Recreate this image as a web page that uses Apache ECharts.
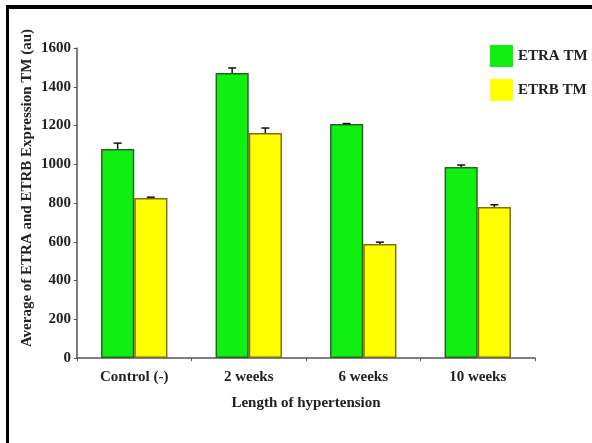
<!DOCTYPE html>
<html>
<head>
<meta charset="utf-8">
<script src="https://cdn.jsdelivr.net/npm/echarts@6/dist/echarts.min.js"></script>
<style>
	html, body { margin: 0; padding: 0; background: #fff; }
	#chart { width: 592px; height: 443px; }
</style>
</head>
<body>
<div id="chart"></div>
<script>
var categories = ['Control (-)', '2 weeks', '6 weeks', '10 weeks'];
var seriesNames = ['ETRA TM', 'ETRB TM'];
var etraValues = [1079, 1471, 1208, 986];
var etrbValues = [826, 1161, 588, 779];
var etraErrors = [30, 26, 2, 10];
var etrbErrors = [4, 26, 10, 12];
var yTicks = [0, 200, 400, 600, 800, 1000, 1200, 1400, 1600];

var fontFamily = '"Liberation Serif", "Times New Roman", serif';
var catGap = 0.42;

// error bar (upper whisker only), positioned over its bar inside the band
function errorRenderer(values, errors, side) {
	return function (params, api) {
		var i = api.value(0);
		var top = api.coord([i, values[i]]);
		var end = api.coord([i, values[i] + errors[i]]);
		var band = api.size([1, 0])[0];
		var barW = band * (1 - catGap) / 2;
		var x = top[0] + side * barW / 2;
		var style = { stroke: '#111', lineWidth: 1.5 };
		return {
			type: 'group',
			children: [
				{ type: 'line', shape: { x1: x, y1: top[1], x2: x, y2: end[1] }, style: style },
				{ type: 'line', shape: { x1: x - 4, y1: end[1], x2: x + 4, y2: end[1] }, style: style }
			]
		};
	};
}

var chart = echarts.init(document.getElementById('chart'));
chart.setOption({
	animation: false,
	backgroundColor: '#fff',
	textStyle: { fontFamily: fontFamily },
	graphic: [
		{ type: 'rect', shape: { x: 6, y: 5, width: 586, height: 4 }, style: { fill: '#000' } },
		{ type: 'rect', shape: { x: 6, y: 5, width: 3, height: 438 }, style: { fill: '#000' } }
	],
	grid: { left: 77, right: 57, top: 48, bottom: 85 },
	legend: {
		left: 485,
		top: 40,
		orient: 'vertical',
		icon: 'rect',
		itemWidth: 23,
		itemHeight: 22,
		itemGap: 12,
		data: seriesNames,
		itemStyle: { borderWidth: 0 },
		textStyle: { fontFamily: fontFamily, fontWeight: 'bold', fontSize: 15, color: '#222' }
	},
	xAxis: {
		type: 'category',
		data: categories,
		name: 'Length of hypertension',
		nameLocation: 'middle',
		nameGap: 38,
		nameTextStyle: { fontFamily: fontFamily, fontWeight: 'bold', fontSize: 15, color: '#222' },
		axisLine: { lineStyle: { color: '#555', width: 1.5 } },
		axisTick: { show: true, length: 3, lineStyle: { color: '#555' } },
		axisLabel: { margin: 12, fontFamily: fontFamily, fontWeight: 'bold', fontSize: 15, color: '#222' }
	},
	yAxis: {
		type: 'value',
		min: yTicks[0],
		max: yTicks[yTicks.length - 1],
		interval: yTicks[1] - yTicks[0],
		name: 'Average of ETRA and ETRB Expression TM (au)',
		nameLocation: 'middle',
		nameGap: 42,
		nameMoveOverlap: false,
		nameTextStyle: { fontFamily: fontFamily, fontWeight: 'bold', fontSize: 15, color: '#222', padding: [0, 0, 0, 30] },
		axisLine: { show: true, lineStyle: { color: '#555', width: 1.5 } },
		axisTick: { show: true, length: 3, lineStyle: { color: '#555' } },
		splitLine: { show: false },
		axisLabel: {
			margin: 6, fontFamily: fontFamily, fontWeight: 'bold', fontSize: 15, color: '#222',
			formatter: function (v) { return String(v); }
		}
	},
	series: [{
		name: seriesNames[0],
		type: 'bar',
		data: etraValues,
		barGap: '0%',
		barCategoryGap: (catGap * 100) + '%',
		itemStyle: { color: '#11ee11', borderColor: '#2a6425', borderWidth: 1.5 }
	}, {
		name: seriesNames[1],
		type: 'bar',
		data: etrbValues,
		itemStyle: { color: '#ffff00', borderColor: '#7d6f1a', borderWidth: 1.5 }
	}, {
		type: 'custom',
		renderItem: errorRenderer(etraValues, etraErrors, -1),
		data: categories.map(function (c, i) { return [i]; }),
		z: 5
	}, {
		type: 'custom',
		renderItem: errorRenderer(etrbValues, etrbErrors, 1),
		data: categories.map(function (c, i) { return [i]; }),
		z: 5
	}]
});
</script>
</body>
</html>
